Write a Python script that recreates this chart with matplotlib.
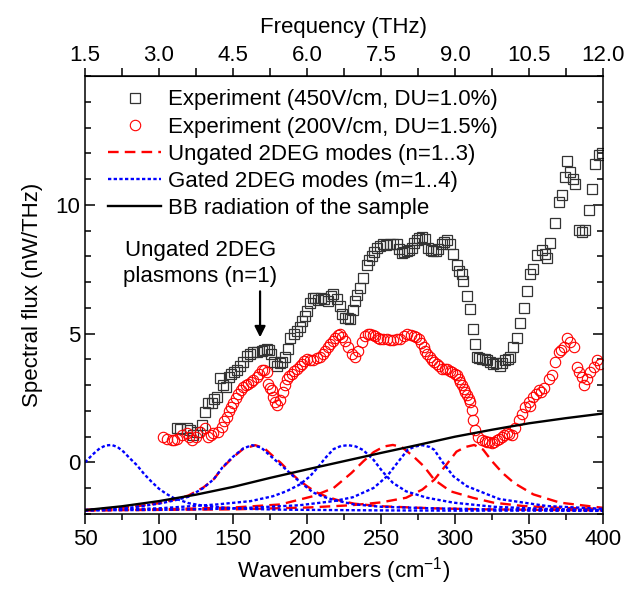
import matplotlib
matplotlib.use('Agg')
import matplotlib.pyplot as plt
from matplotlib.ticker import MultipleLocator, FixedLocator

plt.rcParams['font.family'] = ['Liberation Sans', 'DejaVu Sans']
plt.rcParams['mathtext.fontset'] = 'custom'
plt.rcParams['mathtext.rm'] = 'Liberation Sans'
plt.rcParams['mathtext.it'] = 'Liberation Sans:italic'

# Experiment (450V/cm, DU=1.0%)
exp450_x = [112, 114, 118.7, 121, 123, 126, 129, 131, 133.4, 135.7, 137, 139, 141.3, 143, 145.4,
            147, 148.8, 150.5, 152.5, 155, 157, 159.3, 161.5, 163.6, 166, 169.4, 171, 172.8, 174.5,
            176, 178, 179.6, 181.5, 183, 185, 187.3, 188.6, 191, 193, 195, 196.5, 198.5, 200, 202,
            204, 205.5, 207.5, 209.5, 211.5, 214.4, 216, 217.7, 220, 222.4, 224, 225.8, 227.5,
            229.2, 231, 232.5, 234, 236, 238, 240.5, 242, 243.8, 245.5, 247.2, 249.5, 251.5, 253.5,
            256, 258, 260.7, 262.5, 264, 265.8, 267.5, 269, 270.8, 272.5, 274.3, 276, 277.6, 280,
            282, 283.5, 285.4, 287, 288.7, 291, 292.8, 294.5, 296.8, 298.8, 301.3, 303, 304.7,
            305.6, 308.1, 310.3, 312.1, 313.7, 314.9, 316.5, 318.2, 320, 321.6, 323.5, 326, 328,
            330.6, 332, 334, 336, 337.3, 339.5, 341.8, 344, 346.3, 348.6, 350.8, 353, 355.3, 358.7,
            360.5, 362, 364.4, 367.8, 370, 372.3, 374.5, 375.6, 377.9, 380, 381.3, 383.6, 386, 388,
            390.3, 392.6, 394.8, 397, 399]
exp450_y = [1.32, 1.3, 1.35, 1.25, 1.07, 1.2, 1.45, 1.96, 2.3, 2.3, 2.45, 2.54, 3.26, 3.0, 2.93,
            3.3, 3.45, 3.5, 3.6, 3.75, 3.9, 4.15, 4.2, 4.28, 4.3, 4.34, 4.35, 4.4, 4.35,
            4.22, 3.9, 3.76, 3.85, 3.9, 4.1, 4.42, 4.85, 5.0, 5.1, 5.25, 5.5, 5.7, 5.88, 6.2,
            6.4, 6.4, 6.3, 6.4, 6.35, 6.27, 6.45, 6.53, 6.35, 6.07, 5.75, 5.62, 5.6,
            5.57, 5.9, 6.27, 6.5, 6.78, 7.17, 7.68, 7.85, 8.0, 8.15, 8.32, 8.4, 8.46, 8.45,
            8.46, 8.47, 8.46, 8.3, 8.13, 8.15, 8.19, 8.25, 8.32, 8.5, 8.64, 8.72, 8.77, 8.66,
            8.32, 8.25, 8.19, 8.22, 8.27, 8.46, 8.55, 8.64, 8.46, 8.08, 7.68, 7.45, 7.3,
            7.04, 6.46, 5.95, 5.18, 4.6, 4.08, 4.05, 4.02, 4.0, 3.96, 3.9, 3.83, 3.85,
            3.76, 3.85, 3.96, 4.0, 4.08, 4.5, 4.85, 5.43, 6.0, 6.65, 7.3, 7.49, 8.07, 8.26,
            8.1, 7.94, 8.51, 9.28, 10.1, 10.38, 11.08, 11.72, 11.27, 11.0, 10.82, 9.03, 8.95, 9.03,
            9.8, 10.63, 11.6, 11.92, 12.0]

# Experiment (200V/cm, DU=1.5%)
exp200_x = [103, 105.6, 108.5, 110, 112, 115.3, 118.7, 120.5, 122, 125, 127.7, 131, 133.4, 135,
            136.7, 140, 142.4, 144, 145.7, 147, 148.5, 150.3, 152, 153.7, 155.5, 157, 158.7,
            160.4, 162, 163.8, 166, 167.7, 169.4, 171, 172.8, 174, 175, 176.2, 177.3, 178.5,
            179.6, 181.8, 184, 185.2, 186.4, 188, 189.7, 191.5, 193, 195, 196.5, 198, 199.9, 202,
            204.4, 207, 209, 210.5, 212.3, 214, 215.6, 217.3, 219, 220.7, 222.4, 224, 225.8, 228,
            230.3, 232.5, 234.8, 237, 239.3, 241, 242.7, 244.3, 246, 247.7, 249.4, 251.7, 253.9,
            256, 258.4, 260.7, 263, 265.3, 267.5, 270, 272, 273.7, 275.4, 277, 278.8, 280, 281.1,
            282.8, 284.5, 286, 287.8, 289.5, 291.2, 293, 294.6, 296.3, 298, 299.7, 301.3, 302.5,
            303.6, 304.8, 305.9, 307, 308.1, 309.2, 310, 311.2, 312.5, 313.8, 315.5, 318.2, 320,
            321.6, 323.3, 325, 326.7, 328.4, 330, 331.7, 333.4, 335.1, 336.8, 338.5, 340.7, 343,
            345.3, 347.5, 349.7, 351, 353, 354.8, 356.5, 358, 360, 363.2, 365.5, 367.8, 370,
            371.7, 373.4, 375.6, 377.9, 380.2, 382.4, 384, 385.8, 386.9, 389.2, 391.4, 393.7,
            396, 398.2]
exp200_y = [1.0, 0.9, 0.87, 0.88, 0.9, 1.07, 1.13, 1.0, 0.87, 1.0, 1.2, 1.32, 0.98, 1.05,
            1.13, 1.2, 1.39, 1.6, 1.75, 2.0, 2.15, 2.3, 2.5, 2.67, 2.8, 2.93, 3.0,
            3.06, 3.12, 3.19, 3.31, 3.45, 3.57, 3.6, 3.5, 3.06, 2.9, 2.8, 2.54, 2.35,
            2.22, 2.41, 2.74, 3.0, 3.25, 3.35, 3.44, 3.55, 3.63, 3.75, 3.83, 3.92, 4.02, 3.98,
            3.96, 4.05, 4.08, 4.2, 4.34, 4.47, 4.6, 4.72, 4.85, 4.95, 4.98, 4.88, 4.73, 4.47,
            4.21, 4.08, 4.34, 4.66, 4.92, 4.97, 4.98, 4.95, 4.92, 4.85, 4.79, 4.8, 4.79,
            4.77, 4.75, 4.78, 4.79, 4.9, 4.98, 4.95, 4.92, 4.86, 4.79, 4.65, 4.47, 4.33, 4.21,
            4.08, 3.96, 3.9, 3.83, 3.73, 3.63, 3.63, 3.63, 3.56, 3.5, 3.44, 3.38, 3.25,
            3.12, 3.0, 2.87, 2.74, 2.61, 2.48, 2.35, 2.03, 1.64, 1.26, 1.0, 0.87, 0.84,
            0.81, 0.78, 0.75, 0.8, 0.87, 0.93, 1.0, 1.07, 1.13, 1.1, 1.07, 1.32, 1.64,
            1.9, 2.16, 2.35, 2.2, 2.54, 2.67, 2.8, 2.75, 2.9, 3.25, 3.38, 3.89, 4.28,
            4.38, 4.47, 4.85, 4.66, 4.47, 3.7, 3.5, 3.31, 3.0, 3.25, 3.5, 3.7,
            3.96, 3.83]

# Ungated 2DEG modes (n=1..3)
ung1_x = [50, 80, 100, 110, 120, 130, 137, 143, 150, 157, 165, 171, 176, 182, 188, 194, 200, 206,
          213, 220, 232, 250, 285, 320, 360, 400]
ung1_y = [-1.84, -1.74, -1.58, -1.45, -1.28, -0.97, -0.65, -0.2, 0.2, 0.53, 0.67, 0.56, 0.3, 0.0,
          -0.35, -0.66, -0.92, -1.15, -1.32, -1.45, -1.6, -1.7, -1.78, -1.82, -1.84, -1.86]
ung2_x = [50, 100, 150, 182, 204, 218, 230, 238, 245, 252, 258, 264, 272, 279, 286, 297, 312, 326,
          346, 370, 400]
ung2_y = [-1.86, -1.82, -1.75, -1.63, -1.31, -0.99, -0.41, 0.04, 0.4, 0.62, 0.68, 0.6, 0.23, -0.15,
          -0.67, -1.12, -1.37, -1.56, -1.69, -1.76, -1.8]
ung3_x = [50, 150, 200, 230, 250, 267, 278, 286, 294, 301, 307, 313, 319, 325, 332, 340, 353, 371, 400]
ung3_y = [-1.86, -1.82, -1.75, -1.66, -1.55, -1.37, -1.05, -0.67, -0.1, 0.42, 0.6, 0.68, 0.5, 0.05,
          -0.4, -0.8, -1.24, -1.56, -1.76]

# Gated 2DEG modes (m=1..4)
gat1_x = [50, 55, 60, 64, 68, 72, 76, 80, 85, 90, 95, 100, 105, 110, 120, 130, 145, 160, 180, 200,
          250, 300, 350, 400]
gat1_y = [0.0, 0.3, 0.55, 0.66, 0.68, 0.6, 0.42, 0.18, -0.1, -0.45, -0.75, -1.02, -1.22, -1.38,
          -1.58, -1.68, -1.76, -1.8, -1.83, -1.84, -1.86, -1.87, -1.87, -1.88]
gat2_x = [50, 80, 100, 110, 120, 130, 137, 143, 150, 157, 163, 169, 174, 180, 186, 192, 198, 204,
          211, 218, 231, 250, 285, 320, 360, 400]
gat2_y = [-1.84, -1.76, -1.6, -1.48, -1.33, -0.99, -0.65, -0.18, 0.22, 0.55, 0.67, 0.58, 0.32, 0.02,
          -0.28, -0.6, -0.88, -1.16, -1.33, -1.45, -1.62, -1.72, -1.78, -1.82, -1.84, -1.86]
gat3_x = [50, 100, 139, 162, 177, 186, 195, 202, 208, 212, 218, 223, 228, 233, 238, 245, 251, 258,
          267, 281, 299, 326, 360, 400]
gat3_y = [-1.86, -1.78, -1.63, -1.5, -1.31, -1.12, -0.86, -0.54, -0.15, 0.15, 0.52, 0.64, 0.67, 0.62,
          0.48, 0.1, -0.35, -0.79, -1.12, -1.37, -1.56, -1.72, -1.8, -1.85]
gat4_x = [50, 100, 150, 195, 218, 231, 245, 254, 261, 268, 273, 278, 283, 286, 292, 299, 308, 322,
          330, 362, 400]
gat4_y = [-1.86, -1.84, -1.79, -1.66, -1.5, -1.35, -0.99, -0.54, -0.02, 0.49, 0.62, 0.67, 0.6, 0.49,
          -0.02, -0.54, -0.92, -1.24, -1.42, -1.69, -1.8]

# BB radiation of the sample
bb_x = [50, 75, 100, 125, 150, 175, 200, 225, 250, 275, 300, 325, 350, 375, 400]
bb_y = [-1.85, -1.7, -1.5, -1.25, -0.95, -0.6, -0.27, 0.05, 0.37, 0.68, 1.0, 1.27, 1.52, 1.72, 1.9]

# top axis: frequency labels
freq_ticks = [1.5, 3.0, 4.5, 6.0, 7.5, 9.0, 10.5, 12.0]
freq_labels = ['1.5', '3.0', '4.5', '6.0', '7.5', '9.0', '10.5', '12.0']

fig = plt.figure(figsize=(6.37, 5.91), dpi=100)
ax = fig.add_axes([0.1334, 0.1303, 0.8132, 0.7411])

red = '#ff0000'
blue = '#0000ff'
dash_red = (0, (4.5, 2.6))
dot_blue = (0, (1.4, 1.0))

ax.plot(exp450_x, exp450_y, 's', ms=6.8, mfc='none', mec='#333333', mew=0.9,
        label='Experiment (450V/cm, DU=1.0%)')
ax.plot(exp200_x, exp200_y, 'o', ms=7.5, mfc='none', mec=red, mew=0.8,
        label='Experiment (200V/cm, DU=1.5%)')
ax.plot(ung1_x, ung1_y, color=red, lw=1.7, ls=dash_red, label='Ungated 2DEG modes (n=1..3)')
ax.plot(ung2_x, ung2_y, color=red, lw=1.7, ls=dash_red)
ax.plot(ung3_x, ung3_y, color=red, lw=1.7, ls=dash_red)
ax.plot(gat1_x, gat1_y, color=blue, lw=1.7, ls=dot_blue, label='Gated 2DEG modes (m=1..4)')
ax.plot(gat2_x, gat2_y, color=blue, lw=1.7, ls=dot_blue)
ax.plot(gat3_x, gat3_y, color=blue, lw=1.7, ls=dot_blue)
ax.plot(gat4_x, gat4_y, color=blue, lw=1.7, ls=dot_blue)
ax.plot(bb_x, bb_y, color='black', lw=1.7, label='BB radiation of the sample')

ax.set_xlim(50, 400)
ax.set_ylim(-2, 15)
ax.xaxis.set_major_locator(MultipleLocator(50))
ax.xaxis.set_minor_locator(MultipleLocator(25))
ax.yaxis.set_major_locator(FixedLocator([0, 5, 10]))
ax.yaxis.set_minor_locator(MultipleLocator(1))
ax.tick_params(axis='x', which='both', direction='out', labelsize=16, top=False)
ax.tick_params(axis='y', which='both', direction='in', right=True, labelsize=16)
ax.tick_params(which='major', length=7, width=1.1)
ax.tick_params(which='minor', length=4, width=1.1)
for s in ax.spines.values():
    s.set_linewidth(1.1)

ax.set_xlabel('Wavenumbers (cm$^{-1}$)', fontsize=16, labelpad=4)
ax.set_ylabel('Spectral flux (nW/THz)', fontsize=16, labelpad=9)

secax = ax.secondary_xaxis('top', functions=(lambda w: w * 0.03, lambda f: f / 0.03))
secax.xaxis.set_major_locator(FixedLocator(freq_ticks))
secax.xaxis.set_minor_locator(MultipleLocator(0.75))
secax.set_xticklabels(freq_labels)
secax.tick_params(which='both', direction='out', labelsize=16, width=1.1, length=6, pad=1.5)
secax.set_xlabel('Frequency (THz)', fontsize=16, labelpad=8)

ax.text(127.8, 7.73, 'Ungated 2DEG\nplasmons (n=1)', fontsize=16, ha='center', va='center',
        linespacing=1.35)
ax.annotate('', xy=(168.3, 4.75), xytext=(168.3, 6.75),
            arrowprops=dict(arrowstyle='-|>', color='black', lw=1.6, mutation_scale=16))

ax.legend(loc='upper left', bbox_to_anchor=(0.023, 0.995), frameon=False, fontsize=16,
          handlelength=2.4, handletextpad=0.3, labelspacing=0.28, borderaxespad=0.3,
          borderpad=0.2, numpoints=1)

fig.savefig('out.png', dpi=100)
